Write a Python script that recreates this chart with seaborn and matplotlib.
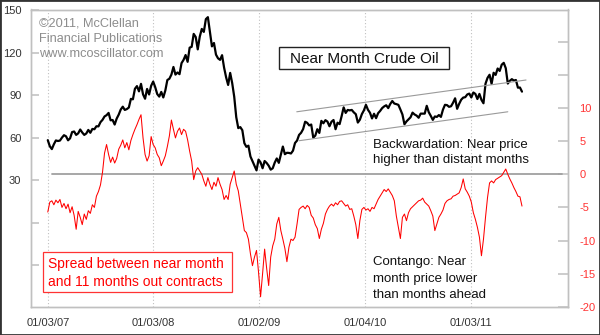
import numpy as np
import pandas as pd
import matplotlib
matplotlib.use('Agg')
import matplotlib.pyplot as plt
from matplotlib.patches import Rectangle
import seaborn as sns

# ---------------- data (weekly) ----------------
start_date = '2007-01-03'

oil_price = [
    # 2007
    58.3, 54.0, 52.0, 55.4, 58.1, 57.7, 58.0, 60.1, 61.8, 61.0, 58.2, 59.6, 64.0,
    64.4, 62.0, 63.1, 65.8, 63.7, 62.0, 63.0, 65.5, 63.5, 66.2, 66.0, 68.1, 68.0,
    71.0, 72.6, 75.0, 75.9, 77.5, 72.3, 72.5, 69.3, 73.5, 76.3, 79.9, 81.9, 79.6,
    80.2, 81.3, 87.4, 87.1, 94.5, 96.4, 92.7, 98.0, 90.6, 87.5, 94.4, 90.5, 96.6,
    # 2008
    99.6, 95.7, 90.8, 89.0, 92.3, 88.4, 93.3, 100.7, 101.6, 104.5, 109.9, 104.5, 106.0,
    104.8, 112.6, 114.9, 118.3, 113.5, 123.5, 124.1, 133.2, 131.0, 122.3, 131.3, 136.7, 134.6,
    143.6, 145.0, 134.6, 124.4, 126.8, 118.6, 116.0, 114.9, 118.2, 109.4, 102.6, 97.2, 105.7,
    98.5, 88.9, 74.5, 66.8, 67.5, 65.3, 56.2, 53.6, 54.4, 46.8, 43.5, 40.1, 37.0, 44.6,
    # 2009
    42.6, 38.5, 43.6, 42.2, 40.3, 37.5, 38.5, 42.5, 45.4, 42.3, 48.1, 53.8,
    48.4, 49.4, 49.3, 48.9, 50.9, 56.3, 58.0, 62.0, 63.5, 66.1, 71.3, 70.5, 68.7,
    69.3, 60.1, 61.5, 66.0, 63.4, 71.9, 70.2, 72.4, 71.4, 68.1, 71.3, 72.5, 66.0, 70.6,
    69.6, 75.2, 81.4, 77.5, 79.6, 79.3, 79.6, 77.9, 76.6, 70.7, 72.7, 76.7, 79.3,
    # 2010
    83.2, 79.7, 77.6, 73.6, 76.9, 73.8, 77.3, 78.9, 80.9, 82.1, 82.9, 80.9, 83.8,
    85.9, 84.1, 83.7, 83.2, 79.9, 76.4, 69.5, 71.5, 72.9, 74.4, 77.7, 76.4, 75.6,
    74.1, 77.0, 77.0, 77.0, 82.5, 78.0, 75.4, 72.6, 75.0, 74.7, 76.0, 74.7, 79.8,
    83.2, 83.0, 81.8, 82.2, 84.7, 87.8, 80.4, 83.9, 86.8, 88.3, 88.6, 90.5, 91.1,
    # 2011
    88.4, 91.9, 90.9, 87.3, 90.9, 86.7, 84.3, 98.1, 102.2, 104.4, 98.0, 105.8, 104.3,
    108.8, 107.1, 111.5, 112.8, 109.0, 98.2, 100.1, 101.3, 100.3, 100.7, 95.3, 95.4, 92.5,
]

spread = [
    # 2007
    -5.7, -4.2, -4.0, -4.6, -3.9, -4.3, -3.8, -5.0, -4.4, -5.2, -4.5, -5.8, -4.9,
    -6.2, -8.3, -5.6, -6.5, -7.6, -6.0, -6.8, -5.5, -5.9, -4.6, -5.0, -3.3, -2.6,
    -1.6, 0.3, 3.2, 4.5, 3.0, 1.8, 2.6, 1.7, 2.4, 3.8, 4.4, 5.2, 4.0,
    4.8, 3.7, 5.1, 6.0, 6.8, 7.5, 8.3, 9.0, 5.5, 3.0, 2.0, 2.8, 5.7,
    # 2008
    4.5, 4.0, 3.0, 2.5, 1.3, 2.0, 2.8, 4.2, 5.8, 8.2, 6.8, 5.5, 6.5,
    7.0, 6.0, 6.8, 6.5, 5.2, 3.5, 2.0, -0.8, 0.5, 1.0, 0.5, 0.0, -1.0,
    -1.8, -0.5, -1.5, -2.3, -1.2, -1.8, -0.5, -1.5, -2.3, -3.8, -3.2, -3.8, -1.5,
    -0.5, 0.5, -1.5, -2.5, -4.5, -6.5, -8.5, -8.8, -9.8, -12.0, -13.8, -12.5, -11.5,
    # 2009
    -14.8, -18.5, -15.0, -11.3, -14.2, -16.8, -12.5, -10.8, -9.8, -7.5, -6.5, -8.5, -9.8,
    -11.2, -13.2, -11.0, -9.8, -10.0, -9.5, -7.5, -5.3, -5.0, -4.8, -5.2, -4.7, -5.0,
    -6.2, -6.6, -7.6, -8.2, -9.7, -8.3, -7.4, -6.0, -5.3, -4.8, -4.5, -4.8, -4.3,
    -4.6, -4.1, -4.0, -4.4, -4.8, -4.6, -5.3, -5.2, -6.3, -7.6, -9.7, -7.0, -5.3,
    # 2010
    -5.0, -5.4, -5.2, -5.6, -5.0, -5.2, -4.5, -3.8, -3.3, -2.8, -2.3, -2.6, -2.2,
    -2.7, -3.2, -4.0, -6.3, -8.0, -9.7, -6.5, -6.0, -7.0, -5.8, -5.2, -4.9, -4.6,
    -4.3, -4.0, -3.9, -3.6, -4.2, -4.5, -4.8, -5.5, -6.3, -8.5, -7.5, -6.5, -6.0,
    -5.4, -4.4, -4.0, -3.8, -3.7, -3.3, -3.2, -3.0, -2.8, -2.0, -0.7, -2.2, -2.7,
    # 2011
    -3.3, -4.2, -5.8, -6.8, -8.0, -9.5, -12.3, -9.8, -6.5, -3.5, -1.3, -1.0, -1.3,
    -0.8, -0.6, -0.4, -0.2, 0.3, 0.8, 0.0, -0.7, -1.3, -2.0, -2.6, -3.3, -3.4, -4.8,
]

channel_upper_dates = ['2009-05-12', '2011-07-13']
channel_upper_vals = [78.3, 100.7]
channel_lower_dates = ['2009-05-20', '2011-05-11']
channel_lower_vals = [57.9, 78.3]

left_ticks = [150, 120, 90, 60, 30, 0, -30]
left_labels = ['150', '120', '90', '60', '30', '', '']
right_ticks = [20, 15, 10, 5, 0, -5, -10, -15, -20]
right_labels = ['', '', '10', '5', '0', '-5', '-10', '-15', '-20']
x_tick_dates = ['2007-01-03', '2008-01-03', '2009-01-02', '2010-01-04', '2011-01-03']
x_tick_labels = ['01/03/07', '01/03/08', '01/02/09', '01/04/10', '01/03/11']

dates = pd.date_range(start_date, periods=len(oil_price), freq='7D')
df = pd.DataFrame({'date': dates, 'oil': oil_price, 'spread': spread})

# ---------------- style ----------------
sns.set_style('white')
plt.rcParams['font.family'] = ['Liberation Sans', 'DejaVu Sans']

W, H = 600, 335
def fx(x):
    return x / W
def fy(y):
    return 1 - y / H

fig = plt.figure(figsize=(6, 3.35), dpi=100)
fig.patch.set_facecolor('white')
L, R, T, B = 31, 568.3, 9.5, 306.7
ax = fig.add_axes([fx(L), fy(B), (R - L) / W, (B - T) / H])
ax2 = ax.twinx()

# lines
sns.lineplot(data=df, x='date', y='oil', ax=ax, color='black', lw=1.6)
sns.lineplot(data=df, x='date', y='spread', ax=ax2, color='#ff0000', lw=0.75)

ax.plot(pd.to_datetime(channel_upper_dates), channel_upper_vals, color='#9a9a9a', lw=0.8)
ax.plot(pd.to_datetime(channel_lower_dates), channel_lower_vals, color='#9a9a9a', lw=0.8)

ax2.axhline(0, xmin=(52 - L) / (R - L), xmax=(562 - L) / (R - L), color='#a0a0a0', lw=1.3, zorder=1)

# axes limits
ax.set_xlim(pd.Timestamp('2006-11-06'), pd.Timestamp('2011-12-06'))
ax.set_ylim(-59.1, 150.4)
ax2.set_ylim(-20.0, 24.9)

# ticks
ax.set_xticks(pd.to_datetime(x_tick_dates))
ax.set_xticklabels(x_tick_labels)
ax.set_yticks(left_ticks)
ax.set_yticklabels(left_labels)
ax2.set_yticks(right_ticks)
ax2.set_yticklabels(right_labels)
ax.set_xlabel('')
ax.set_ylabel('')
ax2.set_ylabel('')

ax.tick_params(axis='x', length=0, pad=8, labelsize=8, labelcolor='#333333')
ax.tick_params(axis='y', direction='in', length=6, width=1.3, color='#c8c8c8',
               labelsize=8, labelcolor='#333333', pad=7)
ax2.tick_params(axis='y', direction='in', length=7, width=1.3, color='#c8c8c8',
                labelsize=8, labelcolor='#ff3333', pad=8)

ax.grid(axis='x', linestyle=(0, (1, 2)), color='#c0c0c0', lw=0.8)
ax.grid(axis='y', visible=False)
ax2.grid(False)
for a in (ax, ax2):
    for s in a.spines.values():
        s.set_visible(True)
        s.set_color('#c0c0c0')
        s.set_linewidth(1.0)

# annotations
gray = '#8c8c8c'
fig.text(fx(39.5), fy(27), '\u00a92011, McClellan', color=gray, fontsize=9.2, va='baseline')
fig.text(fx(39.5), fy(42), 'Financial Publications', color=gray, fontsize=9.2, va='baseline')
fig.text(fx(39.5), fy(57), 'www.mcoscillator.com', color=gray, fontsize=9.2, va='baseline')

fig.patches.append(Rectangle((fx(279.3), fy(69.3)), (449.3 - 279.3) / W, (69.3 - 46.7) / H,
                             transform=fig.transFigure, fc='white', ec='#222222', lw=1.0, zorder=5))
fig.text(fx(364.3), fy(63.3), 'Near Month Crude Oil', color='#111111', fontsize=11,
         ha='center', va='baseline', zorder=6)

dark = '#111111'
fig.text(fx(372.7), fy(147.7), 'Backwardation: Near price', color=dark, fontsize=9.5, va='baseline')
fig.text(fx(372.7), fy(163.3), 'higher than distant months', color=dark, fontsize=9.5, va='baseline')
fig.text(fx(372.7), fy(265.5), 'Contango: Near', color=dark, fontsize=9.5, va='baseline')
fig.text(fx(372.7), fy(282), 'month price lower', color=dark, fontsize=9.5, va='baseline')
fig.text(fx(372.7), fy(298.5), 'than months ahead', color=dark, fontsize=9.5, va='baseline')

fig.patches.append(Rectangle((fx(43.3), fy(292.3)), (231.7 - 43.3) / W, (292.3 - 251.7) / H,
                             transform=fig.transFigure, fc='white', ec='#ff3333', lw=0.9, zorder=5))
fig.text(fx(47.7), fy(268.3), 'Spread between near month', color='#ff0000', fontsize=10,
         va='baseline', zorder=6)
fig.text(fx(47.7), fy(286.5), 'and 11 months out contracts', color='#ff0000', fontsize=10,
         va='baseline', zorder=6)

# outer border
fig.patches.append(Rectangle((0, 0), 1, 1, transform=fig.transFigure, fill=False,
                             ec='#333333', lw=2.0, zorder=10))

fig.savefig('out.png', dpi=100, facecolor='white')
